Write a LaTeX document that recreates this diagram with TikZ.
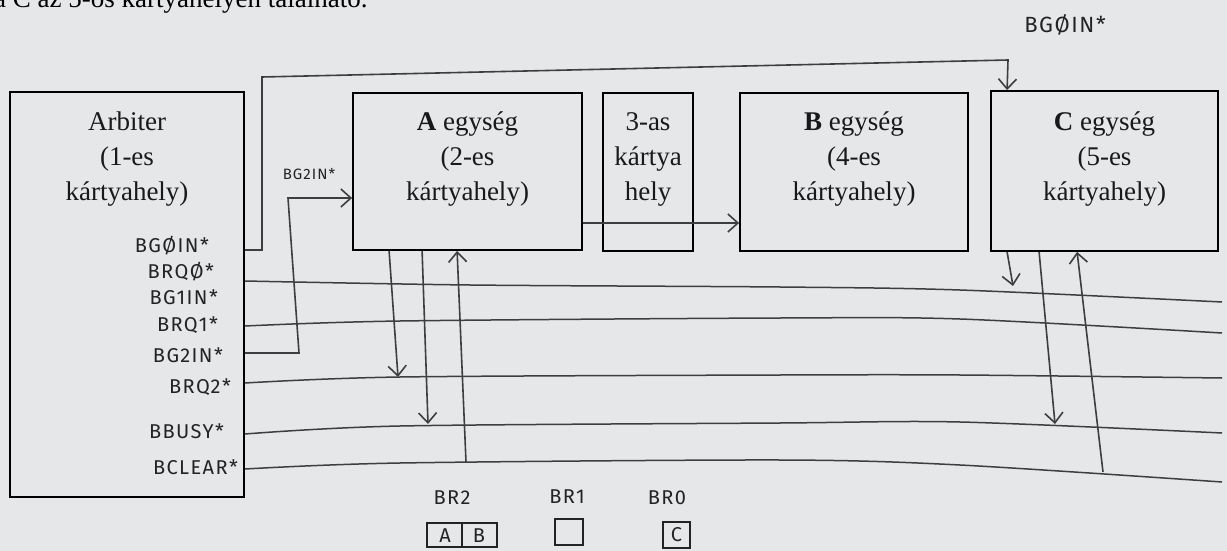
\documentclass[tikz,border=0pt]{standalone}
\usepackage{fontspec}
\setmainfont{Liberation Serif}
\newfontfamily\hand[LetterSpace=7]{Fira Sans}
\usetikzlibrary{arrows.meta,calc}
\definecolor{paper}{RGB}{229,231,233}
\definecolor{ink}{RGB}{35,35,37}
\definecolor{pencil}{RGB}{62,62,64}
\tikzset{
  box/.style={draw=black, line width=1.8pt, inner sep=0pt, rectangle},
  btxt/.style={align=center, font=\fontsize{27}{35}\selectfont, text=black!90},
  hlab/.style={font=\hand\fontsize{20}{22}\selectfont, text=ink, inner sep=0pt},
  slab/.style={font=\hand\fontsize{15}{17}\selectfont, text=ink, inner sep=0pt},
  bus/.style={draw=pencil, line width=1.5pt},
  wire/.style={draw=pencil, line width=1.6pt},
  barb/.tip={Straight Barb[length=10pt,width=18pt,line width=1.6pt]},
  sbox/.style={draw=ink, line width=1.4pt, inner sep=0pt, rectangle}
}
\begin{document}
\begin{tikzpicture}[x=1pt,y=-1pt]
\fill[paper] (0,0) rectangle (1227,551);
\useasboundingbox (0,0) rectangle (1227,551);
\clip (0,0) rectangle (1227,551);
% clipped top text
\node[anchor=base west, inner sep=0pt, font=\fontsize{27}{35}\selectfont] (toptext) at (-6,8) {a C az 5-ös kártyahelyen található.};
% boxes
\node[box, minimum width=234pt, minimum height=405pt] (arb) at (127,294.5) {};
\node[box, minimum width=229pt, minimum height=157pt] (A) at (467.5,171.5) {};
\node[box, minimum width=90pt, minimum height=158pt] (T) at (648,172) {};
\node[box, minimum width=228pt, minimum height=158pt] (B) at (854,172) {};
\node[box, minimum width=227pt, minimum height=160pt] (C) at (1104.5,171) {};
% box texts
\node[btxt] (arbt) at (127,159) {Arbiter\\(1-es\\kártyahely)};
\node[btxt] (At) at (467.5,159) {\textbf{A} egység\\(2-es\\kártyahely)};
\node[btxt] (Tt) at (648,159) {3-as\\kártya\\hely};
\node[btxt] (Bt) at (854,159) {\textbf{B} egység\\(4-es\\kártyahely)};
\node[btxt] (Ct) at (1104.5,159) {\textbf{C} egység\\(5-es\\kártyahely)};
% signal labels
\node[hlab, anchor=east] (l1) at (209,246) {BGØIN*};
\node[hlab, anchor=east] (l2) at (214,272) {BRQØ*};
\node[hlab, anchor=east] (l3) at (218,297) {BG1IN*};
\node[hlab, anchor=east] (l4) at (218,325) {BRQ1*};
\node[hlab, anchor=east] (l5) at (223,355) {BG2IN*};
\node[hlab, anchor=east] (l6) at (231,387) {BRQ2*};
\node[hlab, anchor=east] (l7) at (224,431) {BBUSY*};
\node[hlab, anchor=east] (l8) at (238,467) {BCLEAR*};
\node[slab] (bg2lab) at (309,174) {BG2IN*};
\node[hlab, font=\hand\fontsize{22}{24}\selectfont] (bg0lab) at (1065,25) {BGØIN*};
% bus lines
\coordinate (s1) at (arb.east |- 0,281);
\coordinate (s2) at (arb.east |- 0,326);
\coordinate (s3) at (arb.east |- 0,383);
\coordinate (s4) at (arb.east |- 0,434);
\coordinate (s5) at (arb.east |- 0,469);
\draw[bus] plot[smooth, tension=0.5] coordinates {(s1) (470,285) (780,287) (960,290) (1222,302)};
\draw[bus] plot[smooth, tension=0.5] coordinates {(s2) (400,321) (780,318) (960,319) (1222,333)};
\draw[bus] plot[smooth, tension=0.5] coordinates {(s3) (400,377) (780,375) (960,375) (1222,378)};
\draw[bus] plot[smooth, tension=0.5] coordinates {(s4) (400,426) (780,423) (960,422) (1222,433)};
\draw[bus] plot[smooth, tension=0.5] coordinates {(s5) (400,463) (780,460) (960,465) (1222,482)};
% grant chain BG0IN -> C
\draw[wire, -{barb}] (arb.east |- 0,250) -- (262,250) -- (262,77) -- (1008,60) -- ($(C.north west)+(17,0)$);
% BG2IN -> A
\draw[wire, -{barb}] (arb.east |- 0,353) -- (299,353) -- (288,198) -- (A.west |- 0,198);
% A -> B through slot 3
\draw[wire, -{barb}] (A.east |- 0,223) -- (B.west |- 0,223);
% A unit connections
\coordinate (a1) at (398,377);
\coordinate (a2) at (428,424);
\coordinate (a3) at (466,462);
\draw[wire, -{barb}] ($(A.south west)+(37,0)$) -- (a1);
\draw[wire, -{barb}] ($(A.south west)+(70,0)$) -- (a2);
\draw[wire, -{barb}] (a3) -- ($(A.south west)+(105,0)$);
% C unit connections
\coordinate (c1) at (1013,286);
\coordinate (c2) at (1055,424);
\coordinate (c3) at (1103,472);
\draw[wire, -{barb}] ($(C.south west)+(17,0)$) -- (c1);
\draw[wire, -{barb}] ($(C.south west)+(49,0)$) -- (c2);
\draw[wire, -{barb}] (c3) -- ($(C.south west)+(87,0)$);
% bottom priority notes
\node[hlab] (br2) at (452,498) {BR2};
\node[hlab] (br1) at (567,497) {BR1};
\node[hlab] (br0) at (667,498) {BR0};
\node[sbox, minimum width=70pt, minimum height=24pt] (br2box) at (462,535) {};
\draw[draw=ink, line width=1.4pt] (br2box.north) -- (br2box.south);
\node[hlab] (boxA) at ($(br2box.center)+(-17,1)$) {A};
\node[hlab] (boxB) at ($(br2box.center)+(17,1)$) {B};
\node[sbox, minimum width=28pt, minimum height=26pt] (br1box) at (569,532) {};
\node[sbox, minimum width=27pt, minimum height=26pt] (br0box) at (676.5,535) {};
\node[hlab] (boxC) at (br0box.center) {C};
\end{tikzpicture}
\end{document}
